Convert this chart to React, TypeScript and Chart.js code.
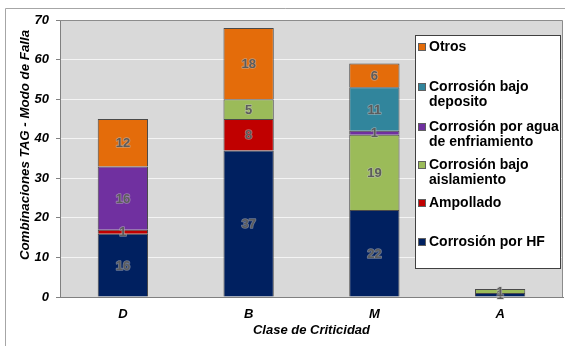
import { useEffect, useRef } from "react";
import { Chart, registerables } from "chart.js";

Chart.register(...registerables);

const categories = ["D", "B", "M", "A"];
const seriesNames = [
  "Corrosión por HF",
  "Ampollado",
  "Corrosión bajo aislamiento",
  "Corrosión por agua de enfriamiento",
  "Corrosión bajo deposito",
  "Otros",
];
const legendLines = [
  ["Corrosión por HF"],
  ["Ampollado"],
  ["Corrosión bajo", "aislamiento"],
  ["Corrosión por agua", "de enfriamiento"],
  ["Corrosión bajo", "deposito"],
  ["Otros"],
];
const hf = [16, 37, 22, 1];
const ampollado = [1, 8, 0, 0];
const aislamiento = [0, 5, 19, 1];
const agua = [16, 0, 1, 0];
const deposito = [0, 0, 11, 0];
const otros = [12, 18, 6, 0];
const seriesColors = ["#002060", "#C00000", "#9BBB59", "#7030A0", "#31859C", "#E46C0A"];
const yTitle = "Combinaciones TAG - Modo de Falla";
const xTitle = "Clase de Criticidad";

const FONT = '"Liberation Sans", Arial, sans-serif';

const framePlugin = {
  id: "frame",
  beforeDraw(chart: any) {
    const { ctx, chartArea } = chart;
    ctx.save();
    ctx.fillStyle = "#fff";
    ctx.fillRect(0, 0, chart.width, chart.height);
    ctx.strokeStyle = "#a6a6a6";
    ctx.lineWidth = 1;
    ctx.beginPath();
    ctx.moveTo(5.5, 400);
    ctx.lineTo(5.5, 8.5);
    ctx.lineTo(600, 8.5);
    ctx.stroke();
    ctx.fillStyle = "#D9D9D9";
    ctx.fillRect(chartArea.left, chartArea.top, chartArea.right - chartArea.left, chartArea.bottom - chartArea.top);
    ctx.restore();
  },
  afterDatasetsDraw(chart: any) {
    const { ctx, chartArea } = chart;
    ctx.save();
    ctx.strokeStyle = "#8c8c8c";
    ctx.lineWidth = 1;
    ctx.beginPath();
    ctx.moveTo(chartArea.left, chartArea.top + 0.5);
    ctx.lineTo(chartArea.right - 0.5, chartArea.top + 0.5);
    ctx.lineTo(chartArea.right - 0.5, chartArea.bottom);
    ctx.stroke();
    // data labels
    ctx.font = `bold 13px ${FONT}`;
    ctx.textAlign = "center";
    ctx.textBaseline = "middle";
    ctx.lineJoin = "round";
    chart.data.datasets.forEach((ds: any, di: number) => {
      const meta = chart.getDatasetMeta(di);
      meta.data.forEach((el: any, i: number) => {
        const v = ds.data[i];
        if (!v) return;
        const y = (el.y + el.base) / 2;
        ctx.strokeStyle = "rgba(190,190,190,0.55)";
        ctx.lineWidth = 1.6;
        ctx.strokeText(String(v), el.x, y + 1);
        ctx.fillStyle = "#5c5c5c";
        ctx.fillText(String(v), el.x, y + 1);
      });
    });
    // y title
    ctx.save();
    ctx.translate(25, 145);
    ctx.rotate(-Math.PI / 2);
    ctx.font = `italic bold 13.3px ${FONT}`;
    ctx.fillStyle = "#000";
    ctx.fillText(yTitle, 0, 0);
    ctx.restore();
    ctx.restore();
  },
  afterDraw(chart: any) {
    const ctx = chart.ctx;
    ctx.save();
    ctx.fillStyle = "#fff";
    ctx.fillRect(415, 35, 145, 233);
    ctx.strokeStyle = "#404040";
    ctx.lineWidth = 1;
    ctx.strokeRect(415.5, 35.5, 145, 233);
    const rowY = [47, 87, 127, 165, 203, 242];
    const order = [5, 4, 3, 2, 1, 0];
    ctx.font = `bold 14px ${FONT}`;
    ctx.textBaseline = "middle";
    ctx.textAlign = "left";
    order.forEach((di, i) => {
      const ds = chart.data.datasets[di];
      const y = rowY[i];
      ctx.fillStyle = ds.backgroundColor;
      ctx.fillRect(418, y - 4, 8, 8);
      ctx.strokeStyle = "#606060";
      ctx.strokeRect(418.5, y - 3.5, 7, 7);
      ctx.fillStyle = "#000";
      legendLines[di].forEach((line, k) => ctx.fillText(line, 429, y + k * 15.5));
    });
    ctx.restore();
  },
};

export default function App() {
  const ref = useRef<HTMLCanvasElement>(null);
  useEffect(() => {
    if (!ref.current) return;
    const values = [hf, ampollado, aislamiento, agua, deposito, otros];
    const chart = new Chart(ref.current, {
      type: "bar",
      data: {
        labels: categories,
        datasets: values.map((d, i) => ({
          label: seriesNames[i],
          data: d,
          backgroundColor: seriesColors[i],
          borderColor: "#4a4a4a",
          borderWidth: 1,
          categoryPercentage: 0.4,
          barPercentage: 1,
        })),
      },
      options: {
        responsive: false,
        animation: false,
        layout: { padding: { top: 20, right: 2, left: 0, bottom: 0 } },
        plugins: { legend: { display: false }, tooltip: { enabled: false } },
        scales: {
          x: {
            stacked: true,
            grid: { display: false, drawTicks: false },
            border: { color: "#808080", width: 1 },
            ticks: {
              color: "#000",
              font: { family: FONT, size: 13, weight: "bold", style: "italic" },
              padding: 10,
            },
            title: {
              display: true,
              text: xTitle,
              color: "#000",
              font: { family: FONT, size: 13, weight: "bold", style: "italic" },
              padding: { top: 0, bottom: 8 },
            },
            afterFit: (s: any) => {
              s.height = 49;
            },
          },
          y: {
            stacked: true,
            min: 0,
            max: 70,
            ticks: {
              stepSize: 10,
              color: "#000",
              padding: 7,
              font: { family: FONT, size: 13, weight: "bold", style: "italic" },
            },
            grid: { color: "#f4f4f4", lineWidth: 1, tickLength: 4, tickColor: "#808080" },
            border: { color: "#808080", width: 1 },
            afterFit: (s: any) => {
              s.width = 60;
            },
          },
        },
      },
      plugins: [framePlugin],
    });
    return () => chart.destroy();
  }, []);
  return (
    <div style={{ position: "fixed", left: 0, top: 0, width: 565, height: 346 }}>
      <canvas ref={ref} width={565} height={346} />
    </div>
  );
}
